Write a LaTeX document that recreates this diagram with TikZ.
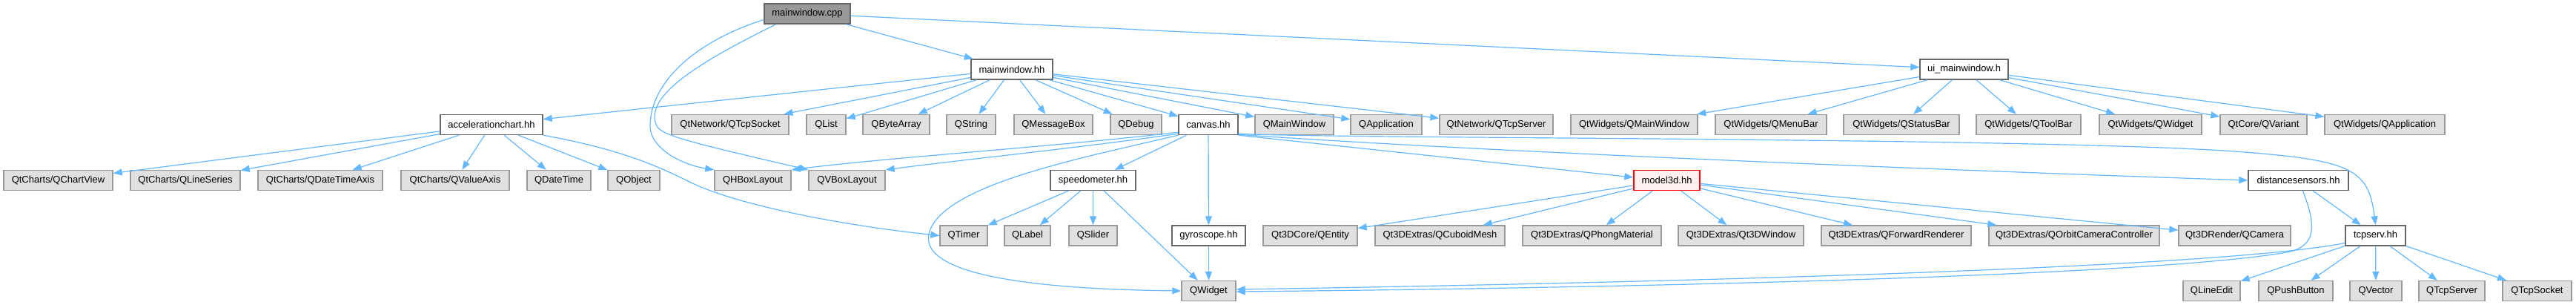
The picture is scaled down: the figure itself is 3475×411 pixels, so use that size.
\documentclass[tikz,border=0pt]{standalone}
\usepackage{fontspec}
\setmainfont{Liberation Sans}
\usetikzlibrary{arrows.meta}
\definecolor{edgec}{HTML}{63B8FF}
\definecolor{gfill}{HTML}{E0E0E0}
\definecolor{gdraw}{HTML}{999999}
\definecolor{wdraw}{HTML}{666666}
\definecolor{rfill}{HTML}{FFF0F0}
\definecolor{rdraw}{HTML}{FF0000}
\newcommand{\nd}[6]{\node[#1, minimum width={#4-#3}] (#2) at ({(#3+#4)/2},#5) {#6};}
\begin{document}
\begin{tikzpicture}[x=1pt,y=-1pt,
  box/.style={rectangle, inner sep=0pt, minimum height=27pt, line width=1.4pt, font=\fontsize{13}{15}\selectfont},
  ext/.style={box, fill=gfill, draw=gdraw},
  hdr/.style={box, fill=white, draw=wdraw},
  root/.style={box, fill=gdraw, draw=wdraw},
  cur/.style={box, fill=rfill, draw=rdraw},
  dep/.style={draw=edgec, line width=1.2pt, -{Triangle[length=12pt,width=9pt]}}]
\fill[white] (0,0) rectangle (3475,411);
\path[use as bounding box] (0,0) rectangle (3475,411);
% row 0
\nd{root}{mcpp}{1031}{1147}{18.5}{mainwindow.cpp}
% row 1
\nd{hdr}{mhh}{1310}{1420}{93.5}{mainwindow.hh}
\nd{hdr}{ui}{2590}{2709}{93.5}{ui\_mainwindow.h}
% row 2
\nd{hdr}{acc}{594}{732}{168}{accelerationchart.hh}
\nd{ext}{ntcpsock}{906}{1064}{168}{QtNetwork/QTcpSocket}
\nd{ext}{qlist}{1088}{1141}{168}{QList}
\nd{ext}{qbyte}{1164}{1254}{168}{QByteArray}
\nd{ext}{qstring}{1277}{1343}{168}{QString}
\nd{ext}{qmsg}{1368}{1474}{168}{QMessageBox}
\nd{ext}{qdebug}{1498}{1567}{168}{QDebug}
\nd{hdr}{canvas}{1590}{1670}{168}{canvas.hh}
\nd{ext}{qmainw}{1693}{1799}{168}{QMainWindow}
\nd{ext}{qapp}{1822}{1918}{168}{QApplication}
\nd{ext}{ntcpserv}{1942}{2095}{168}{QtNetwork/QTcpServer}
\nd{ext}{wmainw}{2119}{2290}{168}{QtWidgets/QMainWindow}
\nd{ext}{wmenu}{2314}{2464}{168}{QtWidgets/QMenuBar}
\nd{ext}{wstatus}{2487}{2643}{168}{QtWidgets/QStatusBar}
\nd{ext}{wtool}{2666}{2807}{168}{QtWidgets/QToolBar}
\nd{ext}{wwidget}{2832}{2970}{168}{QtWidgets/QWidget}
\nd{ext}{cvariant}{2995}{3112}{168}{QtCore/QVariant}
\nd{ext}{wapp}{3136}{3298}{168}{QtWidgets/QApplication}
% row 3
\nd{ext}{chartview}{5}{152}{243}{QtCharts/QChartView}
\nd{ext}{lineseries}{176}{324}{243}{QtCharts/QLineSeries}
\nd{ext}{dtaxis}{348}{516}{243}{QtCharts/QDateTimeAxis}
\nd{ext}{valaxis}{541}{687}{243}{QtCharts/QValueAxis}
\nd{ext}{qdatetime}{711}{797}{243}{QDateTime}
\nd{ext}{qobject}{820}{890}{243}{QObject}
\nd{ext}{qhbox}{964}{1067}{243}{QHBoxLayout}
\nd{ext}{qvbox}{1091}{1194}{243}{QVBoxLayout}
\nd{hdr}{speedo}{1417}{1532}{243}{speedometer.hh}
\nd{cur}{model}{2204}{2293}{243}{model3d.hh}
\nd{hdr}{dist}{3033}{3168}{243}{distancesensors.hh}
% row 4
\nd{ext}{qtimer}{1268}{1332}{317.5}{QTimer}
\nd{ext}{qlabel}{1355}{1417}{317.5}{QLabel}
\nd{ext}{qslider}{1442}{1507}{317.5}{QSlider}
\nd{hdr}{gyro}{1581}{1680}{317.5}{gyroscope.hh}
\nd{ext}{qentity}{1704}{1831}{317.5}{Qt3DCore/QEntity}
\nd{ext}{cuboid}{1855}{2030}{317.5}{Qt3DExtras/QCuboidMesh}
\nd{ext}{phong}{2054}{2241}{317.5}{Qt3DExtras/QPhongMaterial}
\nd{ext}{win3d}{2264}{2433}{317.5}{Qt3DExtras/Qt3DWindow}
\nd{ext}{fwdrend}{2457}{2659}{317.5}{Qt3DExtras/QForwardRenderer}
\nd{ext}{orbit}{2683}{2913}{317.5}{Qt3DExtras/QOrbitCameraController}
\nd{ext}{camera}{2939}{3090}{317.5}{Qt3DRender/QCamera}
\nd{hdr}{tcpserv}{3164}{3245}{317.5}{tcpserv.hh}
% row 5
\nd{ext}{qwidget}{1594}{1667}{392}{QWidget}
\nd{ext}{qlineedit}{2945}{3022}{392}{QLineEdit}
\nd{ext}{qpush}{3047}{3147}{392}{QPushButton}
\nd{ext}{qvector}{3170}{3240}{392}{QVector}
\nd{ext}{qtcpserver}{3263}{3352}{392}{QTcpServer}
\nd{ext}{qtcpsocket}{3376}{3469}{392}{QTcpSocket}
% edges: mainwindow.cpp
\draw[dep] (mcpp) -- (mhh);
\draw[dep] (mcpp) -- (ui);
\draw[dep] ([yshift=-8pt]mcpp.west) .. controls (940,55) and (877,110) .. (877,170) .. controls (877,200) and (920,222) .. (qhbox.north west);
\draw[dep] ([xshift=-42pt]mcpp.south) .. controls (930,90) and (875,130) .. (884,165) .. controls (888,180) and (900,185) .. (qvbox.north west);
% mainwindow.hh
\foreach \t in {acc,ntcpsock,qlist,qbyte,qstring,qmsg,qdebug,canvas,qmainw,qapp,ntcpserv}
  \draw[dep] (mhh) -- (\t);
% ui_mainwindow.h
\foreach \t in {wmainw,wmenu,wstatus,wtool,wwidget,cvariant,wapp}
  \draw[dep] (ui) -- (\t);
% accelerationchart.hh
\foreach \t in {chartview,lineseries,dtaxis,valaxis,qdatetime,qobject}
  \draw[dep] (acc) -- (\t);
\draw[dep] (acc.south east) .. controls (830,200) and (880,220) .. (930,245) .. controls (990,275) and (1130,303) .. (qtimer.west);
% canvas.hh
\draw[dep] ([yshift=4pt]canvas.south west) .. controls (1420,198) and (1200,212) .. (qhbox.north east);
\draw[dep] ([yshift=2pt]canvas.south west) .. controls (1450,200) and (1300,215) .. (qvbox.north east);
\draw[dep] (canvas.south west) .. controls (1450,215) and (1270,250) .. (1253,315) .. controls (1240,375) and (1420,390) .. (qwidget.west);
\draw[dep] (canvas) -- (speedo);
\draw[dep] (canvas) -- (gyro);
\draw[dep] (canvas.south east) -- ([yshift=4pt]model.west);
\draw[dep] ([yshift=1pt]canvas.south east) .. controls (2000,205) and (2700,232) .. (dist.west);
\draw[dep] ([yshift=2pt]canvas.south east) .. controls (1800,187) and (2700,185) .. (3000,203) .. controls (3170,215) and (3195,225) .. (tcpserv.north);
% speedometer.hh
\foreach \t in {qtimer,qlabel,qslider,qwidget}
  \draw[dep] (speedo) -- (\t);
% gyroscope.hh
\draw[dep] (gyro) -- (qwidget);
% model3d.hh
\foreach \t in {qentity,cuboid,phong,win3d,fwdrend,orbit,camera}
  \draw[dep] (model) -- (\t);
% distancesensors.hh
\draw[dep] (dist) -- (tcpserv);
\draw[dep] ([xshift=6pt]dist.south) .. controls (3125,305) and (3125,332) .. (3085,340) .. controls (2900,372) and (2200,388) .. ([yshift=-1pt]qwidget.east);
% tcpserv.hh
\draw[dep] ([yshift=-10pt]tcpserv.west) .. controls (3000,360) and (2300,380) .. ([yshift=2pt]qwidget.east);
\foreach \t in {qlineedit,qpush,qvector,qtcpserver,qtcpsocket}
  \draw[dep] (tcpserv) -- (\t);
\end{tikzpicture}
\end{document}
